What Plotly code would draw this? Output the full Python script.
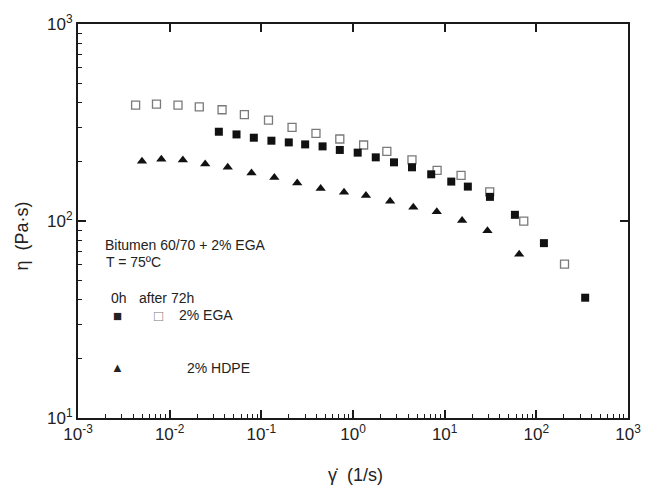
import plotly.graph_objects as go

# after 72h, 2% EGA (open squares)
ega72_x = [0.00425, 0.00718, 0.01233, 0.02104, 0.0373, 0.0653, 0.1197, 0.2163, 0.3945,
           0.718, 1.306, 2.34, 4.40, 8.27, 15.1, 31.0, 72.9, 203]
ega72_y = [387, 392, 387, 380, 367, 347, 325, 298.5, 278.4,
           260.8, 243.1, 225.6, 204.2, 180.8, 170.6, 140.5, 99.8, 60.4]

# 0h, 2% EGA (filled squares)
ega0_x = [0.0344, 0.0536, 0.0828, 0.1288, 0.1993, 0.3006, 0.4656, 0.718, 1.125,
          1.771, 2.80, 4.40, 7.13, 11.8, 17.9, 31.2, 58.4, 121, 341]
ega0_y = [283.9, 275.1, 264.7, 255.6, 250.6, 244.8, 239.2, 229.4, 222.3,
          210.4, 198.5, 187.3, 172.6, 158.5, 149.5, 132.6, 107.5, 77.2, 40.8]

# 0h, 2% HDPE (triangles)
hdpe_x = [0.00499, 0.00811, 0.01393, 0.0244, 0.0430, 0.0781, 0.1386, 0.2464, 0.4436,
          0.798, 1.384, 2.54, 4.55, 8.20, 15.5, 29.3, 65.0]
hdpe_y = [200.9, 205.6, 204.2, 194.8, 187.3, 175.4, 166.1, 156.1, 146.1,
          139.9, 134.6, 126.0, 117.5, 111.3, 100.6, 89.2, 67.7]

x_tickvals = [1e-3, 1e-2, 1e-1, 1e0, 1e1, 1e2, 1e3]
x_ticktext = ["10<sup>-3</sup>", "10<sup>-2</sup>", "10<sup>-1</sup>", "10<sup>0</sup>",
              "10<sup>1</sup>", "10<sup>2</sup>", "10<sup>3</sup>"]
y_tickvals = [1e1, 1e2, 1e3]
y_ticktext = ["10<sup>1</sup>", "10<sup>2</sup>", "10<sup>3</sup>"]

x_minor = [k * 10.0 ** e for e in range(-3, 3) for k in range(2, 10)]
y_minor = [k * 10.0 ** e for e in range(1, 3) for k in range(2, 10)]

FONT = "Liberation Sans, Arial, sans-serif"
AX = "#1a1a1a"

fig = go.Figure()
fig.add_trace(go.Scatter(x=ega72_x, y=ega72_y, mode="markers", showlegend=False,
                         marker=dict(symbol="square-open", size=8, color="#7a7a7a",
                                     line=dict(width=1.3))))
fig.add_trace(go.Scatter(x=ega0_x, y=ega0_y, mode="markers", showlegend=False,
                         marker=dict(symbol="square", size=8, color="#111111")))
fig.add_trace(go.Scatter(x=hdpe_x, y=hdpe_y, mode="markers", showlegend=False,
                         marker=dict(symbol="triangle-up", size=9, color="#111111")))
# mirror axes (top / right) carry only major ticks
fig.add_trace(go.Scatter(x=[], y=[], xaxis="x2", yaxis="y2", showlegend=False))

common = dict(showgrid=False, zeroline=False, showline=True, linewidth=2, linecolor=AX,
              ticks="inside", ticklen=8, tickwidth=1.5, tickcolor=AX)

fig.update_layout(
    width=653, height=485,
    margin=dict(l=78, r=14, t=23, b=67),
    paper_bgcolor="white", plot_bgcolor="white",
    font=dict(family=FONT, color="#222222"),
    xaxis=dict(type="log", range=[-3, 3], tickmode="array", tickvals=x_tickvals,
               ticktext=x_ticktext, tickfont=dict(size=17),
               minor=dict(tickmode="array", tickvals=x_minor, ticks="inside", ticklen=4,
                          tickwidth=1.2, tickcolor=AX),
               **common),
    yaxis=dict(type="log", range=[1, 3], tickmode="array", tickvals=y_tickvals,
               ticktext=y_ticktext, tickfont=dict(size=17),
               minor=dict(tickmode="array", tickvals=y_minor, ticks="inside", ticklen=4,
                          tickwidth=1.2, tickcolor=AX),
               **common),
    xaxis2=dict(type="log", range=[-3, 3], overlaying="x", side="top", anchor="y2",
                tickmode="array", tickvals=x_tickvals, showticklabels=False, **common),
    yaxis2=dict(type="log", range=[1, 3], overlaying="y", side="right", anchor="x2",
                tickmode="array", tickvals=y_tickvals, showticklabels=False, **common),
)

ann = []
def add(text, x, y, size=14, xanchor="left", color="#222222", **kw):
    ann.append(dict(text=text, x=x, y=y, xref="paper", yref="paper", showarrow=False,
                    xanchor=xanchor, yanchor="middle", font=dict(size=size, family=FONT,
                                                                  color=color), **kw))

add("Bitumen 60/70 + 2% EGA", 0.0446, 0.438)
add("T = 75ºC", 0.048, 0.395)
add("0h", 0.057, 0.304)
add("after 72h", 0.107, 0.304)
add("■", 0.071, 0.261, size=15, xanchor="center", font_family="DejaVu Sans")
add("□", 0.146, 0.261, size=15, xanchor="center", color="#7a7a7a")
add("2% EGA", 0.180, 0.261)
add("▲", 0.071, 0.127, size=13, xanchor="center")
add("2% HDPE", 0.194, 0.127)
add("η  (Pa·s)", -0.1016, 0.461, size=18, xanchor="center", textangle=-90)
add("γ̇  (1/s)", 0.504, -0.144, size=18, xanchor="center")
for a in ann:
    a.pop("font_family", None)
fig.update_layout(annotations=ann)

fig.write_html("out.html")
